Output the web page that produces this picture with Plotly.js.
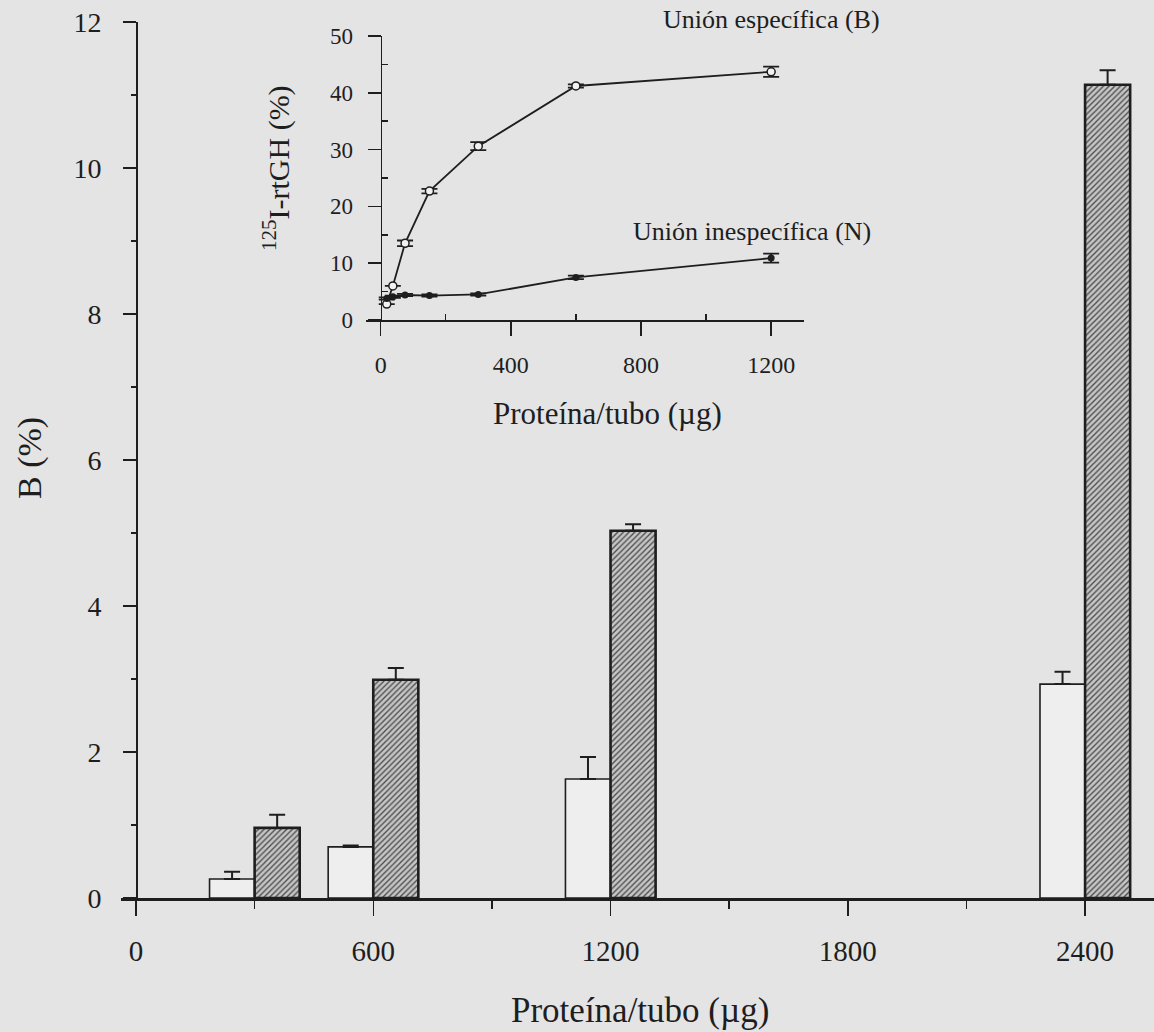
<!DOCTYPE html>
<html>
<head>
<meta charset="utf-8">
<script src="https://cdn.plot.ly/plotly-3.0.1.min.js"></script>
<style>
  html, body { margin: 0; padding: 0; background: #e4e4e4; }
  #chart { width: 1154px; height: 1032px; }
</style>
</head>
<body>
<div id="chart"></div>
<script>
// ---- Main chart data ----
var doses = [300, 600, 1200, 2400];
var nonSpecBars = [0.26, 0.70, 1.63, 2.93];
var nonSpecBarsErr = [0.10, 0.02, 0.30, 0.17];
var totalBars = [0.96, 2.99, 5.03, 11.14];
var totalBarsErr = [0.18, 0.16, 0.09, 0.20];

// ---- Inset data ----
var insetProtein = [18.75, 37.5, 75, 150, 300, 600, 1200];
var specificBinding = [2.8, 6.0, 13.5, 22.7, 30.6, 41.2, 43.7];
var specificErr = [0, 0, 0.5, 0.4, 0.7, 0.3, 0.9];
var nonspecificBinding = [3.8, 4.1, 4.4, 4.3, 4.5, 7.5, 10.9];
var nonspecificErr = [0.2, 0.2, 0.2, 0.2, 0.2, 0.3, 0.8];

// ---- Text ----
var mainXTitle = 'Proteína/tubo (µg)';
var mainYTitle = 'B (%)';
var insetXTitle = 'Proteína/tubo (µg)';
var insetYTitle = '<sup>125</sup>I-rtGH (%)';
var labelSpecific = 'Unión específica (B)';
var labelNonspecific = 'Unión inespecífica (N)';

var ink = '#1e1e1e';
var font = 'Liberation Serif, Times New Roman, serif';
var barW = 114;

var traces = [
  {
    type: 'bar', x: doses, y: nonSpecBars,
    width: barW, offset: -barW,
    marker: { color: '#eeeeee', line: { color: ink, width: 1.6 } },
    error_y: { type: 'data', array: nonSpecBarsErr, arrayminus: [0,0,0,0], symmetric: false,
               color: ink, thickness: 2, width: 8 },
    xaxis: 'x', yaxis: 'y', showlegend: false, hoverinfo: 'x+y'
  },
  {
    type: 'bar', x: doses, y: totalBars,
    width: barW, offset: 0,
    marker: { color: '#c4c4c4', line: { color: ink, width: 2.6 },
              pattern: { shape: '/', fgcolor: '#505050', bgcolor: '#c6c6c6', size: 4, solidity: 0.35 } },
    error_y: { type: 'data', array: totalBarsErr, arrayminus: [0,0,0,0], symmetric: false,
               color: ink, thickness: 2, width: 8 },
    xaxis: 'x', yaxis: 'y', showlegend: false, hoverinfo: 'x+y'
  },
  {
    type: 'scatter', mode: 'lines+markers', x: insetProtein, y: specificBinding,
    line: { color: ink, width: 1.8 },
    marker: { symbol: 'circle', size: 8, color: '#f2f2f2', line: { color: ink, width: 1.5 } },
    error_y: { type: 'data', array: specificErr, color: ink, thickness: 1.8, width: 8 },
    xaxis: 'x2', yaxis: 'y2', showlegend: false, cliponaxis: false
  },
  {
    type: 'scatter', mode: 'lines+markers', x: insetProtein, y: nonspecificBinding,
    line: { color: ink, width: 1.8 },
    marker: { symbol: 'circle', size: 7, color: ink },
    error_y: { type: 'data', array: nonspecificErr, color: ink, thickness: 1.8, width: 8 },
    xaxis: 'x2', yaxis: 'y2', showlegend: false, cliponaxis: false
  }
];

var L = 121, R = 0, T = 22, B = 134;
var W = 1154 - L - R, H = 1032 - T - B;
function px(x) { return (x - L) / W; }
function py(y) { return (1032 - B - y) / H; }

var layout = {
  width: 1154, height: 1032,
  margin: { l: L, r: R, t: T, b: B, pad: 0 },
  paper_bgcolor: '#e4e4e4', plot_bgcolor: 'rgba(0,0,0,0)',
  font: { family: font, color: ink },
  barmode: 'overlay',
  xaxis: {
    domain: [0, 1], range: [-37.9, 2574.3], anchor: 'y',
    showline: true, linecolor: ink, linewidth: 2.5,
    showgrid: false, zeroline: false,
    tick0: 0, dtick: 600, ticks: 'outside', ticklen: 15, tickwidth: 1.5, tickcolor: ink,
    minor: { tick0: 300, dtick: 600, ticks: 'outside', ticklen: 8, tickwidth: 1.5, tickcolor: ink, showgrid: false },
    tickfont: { size: 29, family: font, color: ink }, ticklabelstandoff: 11
  },
  yaxis: {
    domain: [0, 1], range: [0, 12], anchor: 'free', position: px(136),
    showline: true, linecolor: ink, linewidth: 1.5,
    showgrid: false, zeroline: false,
    tick0: 0, dtick: 2, ticks: 'outside', ticklen: 13, tickwidth: 1.5, tickcolor: ink,
    minor: { tick0: 1, dtick: 2, ticks: 'outside', ticklen: 5, tickwidth: 1.5, tickcolor: ink, showgrid: false },
    tickfont: { size: 28, family: font, color: ink }, ticklabelstandoff: 16
  },
  xaxis2: {
    domain: [px(366), px(804)], range: [-45, 1301], anchor: 'y2',
    showline: true, linecolor: ink, linewidth: 2,
    showgrid: false, zeroline: false,
    tick0: 0, dtick: 400, ticks: 'outside', ticklen: 14, tickwidth: 1.5, tickcolor: ink,
    minor: { tick0: 200, dtick: 400, ticks: 'inside', ticklen: 6, tickwidth: 1.5, tickcolor: ink, showgrid: false },
    tickfont: { size: 24, family: font, color: ink }, ticklabelstandoff: 8
  },
  yaxis2: {
    domain: [py(320), py(36)], range: [0, 50], anchor: 'free', position: px(380.7),
    showline: true, linecolor: ink, linewidth: 1.5,
    showgrid: false, zeroline: false,
    tick0: 0, dtick: 10, ticks: 'outside', ticklen: 13, tickwidth: 1.5, tickcolor: ink,
    minor: { tick0: 5, dtick: 10, ticks: 'inside', ticklen: 6, tickwidth: 1.5, tickcolor: ink, showgrid: false },
    tickfont: { size: 23, family: font, color: ink }, ticklabelstandoff: 10
  },
  annotations: [
    { text: mainXTitle, xref: 'paper', yref: 'paper', x: px(640), y: py(1010),
      xanchor: 'center', yanchor: 'middle', showarrow: false, font: { size: 35, family: font, color: ink } },
    { text: mainYTitle, xref: 'paper', yref: 'paper', x: px(30), y: py(458), textangle: -90,
      xanchor: 'center', yanchor: 'middle', showarrow: false, font: { size: 34, family: font, color: ink } },
    { text: insetXTitle, xref: 'paper', yref: 'paper', x: px(607), y: py(413),
      xanchor: 'center', yanchor: 'middle', showarrow: false, font: { size: 31, family: font, color: ink } },
    { text: insetYTitle, xref: 'paper', yref: 'paper', x: px(277), y: py(168), textangle: -90,
      xanchor: 'center', yanchor: 'middle', showarrow: false, font: { size: 30, family: font, color: ink } },
    { text: labelSpecific, xref: 'paper', yref: 'paper', x: px(771), y: py(20),
      xanchor: 'center', yanchor: 'middle', showarrow: false, font: { size: 26, family: font, color: ink } },
    { text: labelNonspecific, xref: 'paper', yref: 'paper', x: px(752), y: py(232),
      xanchor: 'center', yanchor: 'middle', showarrow: false, font: { size: 26, family: font, color: ink } }
  ]
};

Plotly.newPlot('chart', traces, layout, { displayModeBar: false, staticPlot: true });
</script>
</body>
</html>
